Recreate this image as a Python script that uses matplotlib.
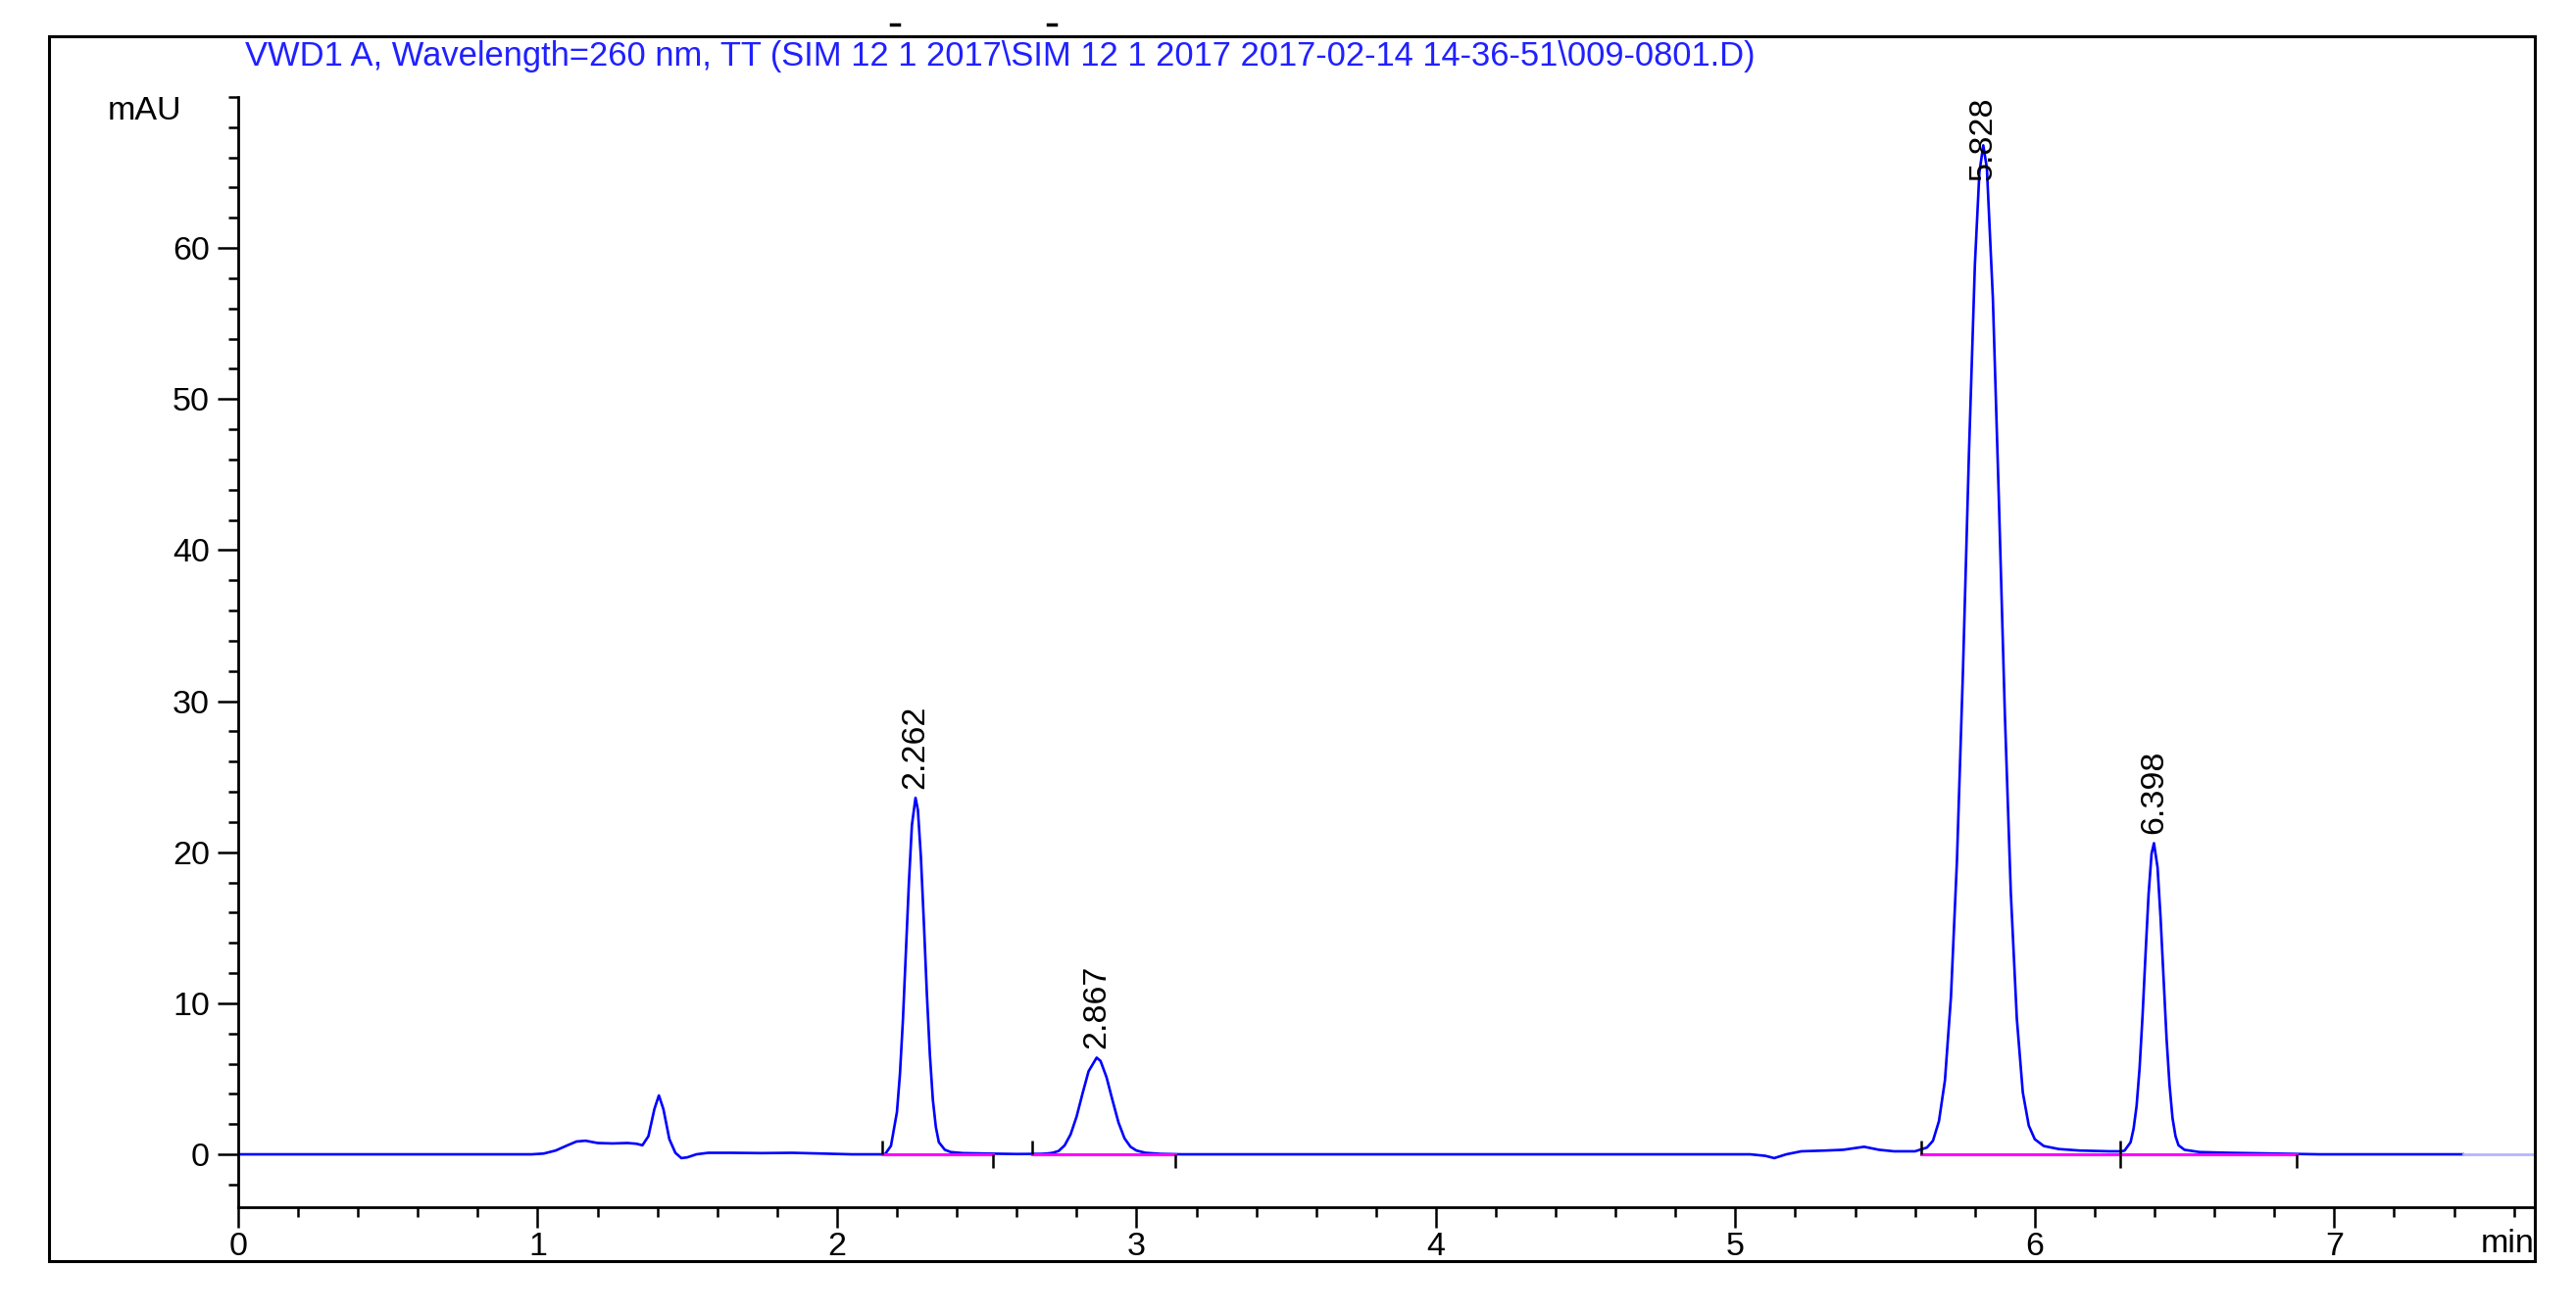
import matplotlib
matplotlib.use("Agg")
import matplotlib.pyplot as plt
from matplotlib.ticker import MultipleLocator
from matplotlib.patches import Rectangle
from matplotlib.lines import Line2D

plt.rcParams["font.family"] = ["Liberation Sans", "DejaVu Sans"]

title = "VWD1 A, Wavelength=260 nm, TT (SIM 12 1 2017\\SIM 12 1 2017 2017-02-14 14-36-51\\009-0801.D)"

# trace (min, mAU)
time = [0.00, 0.98, 1.02, 1.06, 1.10, 1.13, 1.16, 1.20, 1.25, 1.30, 1.33, 1.35, 1.37, 1.39, 1.405,
        1.42, 1.44, 1.46, 1.48, 1.50, 1.53, 1.57, 1.65, 1.75, 1.85, 1.95, 2.05, 2.16,
        2.18, 2.20, 2.21, 2.22, 2.23, 2.24, 2.25, 2.262, 2.27, 2.28, 2.29, 2.30, 2.31, 2.32, 2.33,
        2.34, 2.36, 2.38, 2.42, 2.50, 2.60, 2.68,
        2.70, 2.72, 2.74, 2.76, 2.78, 2.80, 2.82, 2.84, 2.867, 2.88, 2.90, 2.92, 2.94, 2.96, 2.98,
        3.00, 3.03, 3.08, 3.15,
        5.05, 5.10, 5.13, 5.17, 5.22, 5.30, 5.36, 5.43, 5.48, 5.53, 5.60,
        5.64, 5.66, 5.68, 5.70, 5.72, 5.74, 5.76, 5.78, 5.80, 5.815, 5.828, 5.84, 5.86, 5.88, 5.90,
        5.92, 5.94, 5.96, 5.98, 6.00, 6.03, 6.08, 6.15, 6.25, 6.29,
        6.30, 6.32, 6.33, 6.34, 6.35, 6.36, 6.37, 6.38, 6.39, 6.398, 6.41, 6.42, 6.43, 6.44, 6.45,
        6.46, 6.47, 6.48, 6.50, 6.55, 6.65, 6.80, 6.95, 7.43]
signal = [0.0, 0.0, 0.05, 0.25, 0.6, 0.85, 0.9, 0.75, 0.72, 0.75, 0.7, 0.6, 1.2, 3.0, 3.9,
          3.0, 1.0, 0.1, -0.25, -0.2, 0.0, 0.1, 0.1, 0.08, 0.1, 0.05, 0.0, 0.0,
          0.56, 2.8, 5.3, 8.9, 13.4, 18.0, 21.8, 23.6, 22.8, 19.7, 15.3, 10.6, 6.6, 3.6, 1.8,
          0.8, 0.3, 0.15, 0.08, 0.05, 0.02, 0.03,
          0.05, 0.1, 0.22, 0.59, 1.32, 2.5, 4.04, 5.5, 6.4, 6.18, 5.1, 3.57, 2.1, 1.06, 0.5,
          0.25, 0.1, 0.03, 0.0,
          0.0, -0.1, -0.25, 0.0, 0.2, 0.25, 0.3, 0.5, 0.3, 0.2, 0.2,
          0.45, 0.9, 2.2, 4.9, 10.4, 19.4, 31.9, 46.3, 58.9, 65.0, 66.8, 65.3, 56.7, 43.4, 29.2,
          17.3, 9.0, 4.1, 1.9, 1.0, 0.55, 0.35, 0.25, 0.2, 0.2,
          0.25, 0.8, 1.7, 3.2, 5.7, 9.2, 13.3, 17.2, 19.9, 20.6, 19.0, 15.7, 11.7, 7.7, 4.6,
          2.4, 1.2, 0.6, 0.3, 0.15, 0.1, 0.05, 0.0, 0.0]
tail_time = [7.43, 7.67]
tail_signal = [0.0, 0.0]

# integrated peaks
peak_rt = [2.262, 2.867, 5.828, 6.398]
peak_height = [23.6, 6.4, 66.8, 20.6]
peak_start = [2.15, 2.65, 5.62, 6.285]
peak_end = [2.52, 3.13, 6.285, 6.875]

W, H = 2628, 1341
fs = 24.5
fig = plt.figure(figsize=(W / 100, H / 100), dpi=100)
ax = fig.add_axes([243 / W, 1 - 1232 / H, (2586 - 243) / W, (1232 - 99) / H])

# outer frame + two little marks above it
fig.patches.append(Rectangle((50 / W, 1 - 1287 / H), (2586 - 50) / W, (1287 - 37) / H,
                             transform=fig.transFigure, fill=False, lw=2.2, ec="black"))
for px in [913, 1073]:
    fig.lines.append(Line2D([(px - 4) / W, (px + 4) / W], [1 - 25 / H, 1 - 25 / H],
                            transform=fig.transFigure, color="black", lw=2.5))

ax.plot(time, signal, color="#0000ff", lw=1.9)
ax.plot(tail_time, tail_signal, color="#b4b4ff", lw=2)

# baselines and event ticks
for s, e in zip(peak_start, peak_end):
    ax.plot([s, e], [0, 0], color="#ff00ff", lw=2.2, zorder=3)
ax.vlines(peak_start, 0, 0.9, color="black", lw=1.8, zorder=4)
ax.vlines(peak_end, -0.9, 0, color="black", lw=1.8, zorder=4)

ymax = 70
for rt, h in zip(peak_rt, peak_height):
    lab = "%.3f" % rt
    if h + 6.5 > ymax:
        ax.text(rt, ymax, lab, rotation=90, ha="center", va="top", fontsize=fs, clip_on=False)
    else:
        ax.text(rt, h + 0.6, lab, rotation=90, ha="center", va="bottom", fontsize=fs)

ax.set_xlim(0, 7.67)
ax.set_ylim(-3.5, ymax)
ax.set_xticks(range(8))
ax.set_yticks(range(0, 61, 10))
ax.xaxis.set_minor_locator(MultipleLocator(0.2))
ax.yaxis.set_minor_locator(MultipleLocator(2))
ax.spines["top"].set_visible(False)
ax.spines["right"].set_visible(False)
ax.spines["left"].set_linewidth(2)
ax.spines["bottom"].set_linewidth(2)
ax.spines["left"].set_bounds(-3.5, ymax)
ax.tick_params(which="major", length=15, width=1.8, labelsize=fs)
ax.tick_params(axis="y", which="major", pad=6)
ax.tick_params(axis="x", which="major", pad=3)
ax.tick_params(which="minor", length=7, width=1.8)

fig.text(185 / W, 1 - 114 / H, "mAU", ha="right", va="center", fontsize=fs)
fig.text(2586 / W, 1 - 1270 / H, "min", ha="right", va="center", fontsize=fs)

t = fig.text(250 / W, 1 - 57 / H, title, ha="left", va="center", fontsize=21, color="#2020ff")
r = fig.canvas.get_renderer()
t.set_fontsize(21 * 1539 / t.get_window_extent(r).width)

fig.savefig("out.png", dpi=100)
